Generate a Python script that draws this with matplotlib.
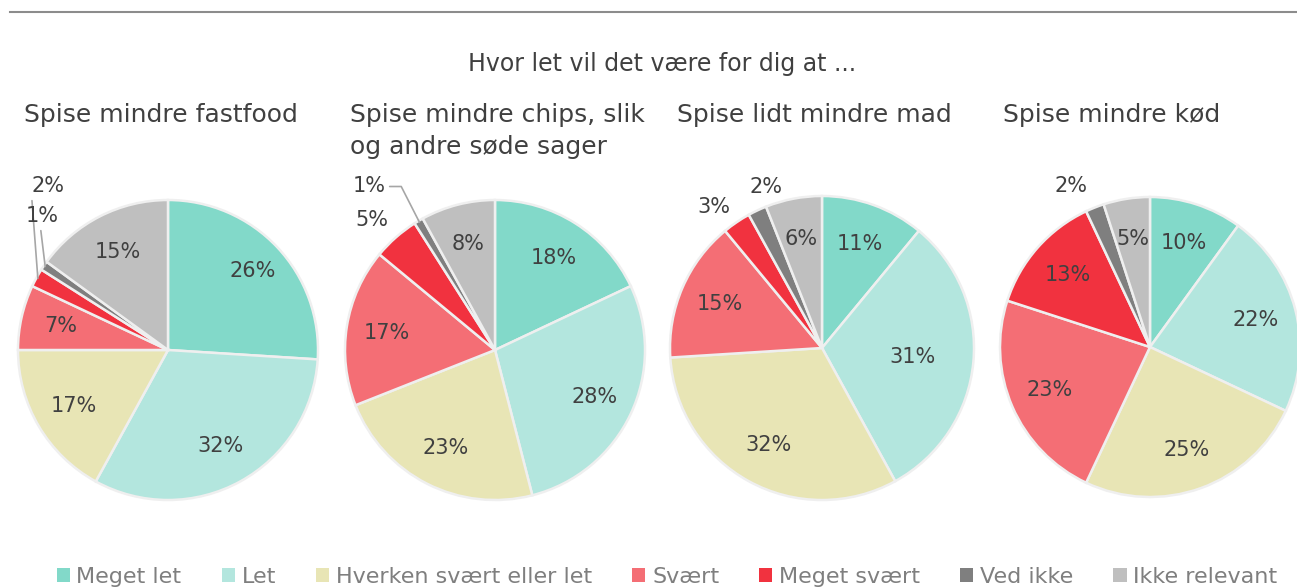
import matplotlib.pyplot as plt
from matplotlib.lines import Line2D
from matplotlib.patches import Patch
import numpy as np

plt.rcParams['font.family'] = ['DejaVu Sans']

# Data
kategorier = ['Meget let', 'Let', 'Hverken svært eller let', 'Svært',
              'Meget svært', 'Ved ikke', 'Ikke relevant']
spoergsmaal = ['Spise mindre fastfood',
               'Spise mindre chips, slik\nog andre søde sager',
               'Spise lidt mindre mad',
               'Spise mindre kød']
fastfood = [26, 32, 17, 7, 2, 1, 15]
chips = [18, 28, 23, 17, 5, 1, 8]
mindre_mad = [11, 31, 32, 15, 3, 2, 6]
koed = [10, 22, 25, 23, 13, 2, 5]
alle_vaerdier = [fastfood, chips, mindre_mad, koed]

farver = ['#82d9c9', '#b3e6de', '#e8e5b5', '#f46e75', '#f1323f', '#7f7f7f', '#bfbfbf']
tekstfarve = '#404040'

# Layout (pixels) - center x, center y, radius
W, H = 1297, 587
centre = [(168, 350, 150), (495, 350, 150), (822, 348, 152), (1150, 347, 150)]
titel_x = [24, 350, 677, 1003]

# labels placed outside the pie: (pie, slice) -> (x, y, leader line style)
udenfor = {
    (0, 4): (-0.80, 1.09, 'venstre'),
    (0, 5): (-0.84, 0.89, 'under'),
    (1, 5): (-0.84, 1.09, 'knaek'),
    (1, 4): (-0.82, 0.87, None),
    (2, 4): (-0.71, 0.93, None),
    (2, 5): (-0.37, 1.06, None),
    (3, 5): (-0.53, 1.07, None),
}
linje_stil = {
    'venstre': dict(relpos=(0.0, 0.1), connectionstyle='arc3'),
    'under': dict(relpos=(0.45, 0.0), connectionstyle='arc3'),
    'knaek': dict(relpos=(1.0, 0.5), connectionstyle='angle,angleA=0,angleB=117,rad=0'),
}
label_r = {(2, 1): 0.6, (0, 0): 0.77}

fig = plt.figure(figsize=(W / 100, H / 100), dpi=100)
L = 1.35

for i, vaerdier in enumerate(alle_vaerdier):
    cx, cy, r = centre[i]
    ax = fig.add_axes([(cx - L * r) / W, (H - cy - L * r) / H, 2 * L * r / W, 2 * L * r / H])
    wedges, _ = ax.pie(vaerdier, colors=farver, startangle=90, counterclock=False,
                       radius=1, wedgeprops=dict(edgecolor='#efefef', linewidth=1.8))
    ax.set_xlim(-L, L)
    ax.set_ylim(-L, L)
    ax.axis('off')
    total = sum(vaerdier)
    start = 0
    for j, v in enumerate(vaerdier):
        mid = (start + v / 2) / total * 2 * np.pi
        start += v
        dx, dy = np.sin(mid), np.cos(mid)
        tekst = f'{v}%'
        if (i, j) in udenfor:
            tx, ty, stil = udenfor[(i, j)]
            if stil:
                ax.annotate(tekst, xy=(dx * 0.99, dy * 0.99), xytext=(tx, ty),
                            ha='center', va='center', fontsize=15, color=tekstfarve,
                            arrowprops=dict(arrowstyle='-', color='#a6a6a6', lw=1.2,
                                            shrinkA=1, shrinkB=0, **linje_stil[stil]))
            else:
                ax.text(tx, ty, tekst, ha='center', va='center', fontsize=15, color=tekstfarve)
        else:
            rr = label_r.get((i, j), 0.73)
            ax.text(dx * rr, dy * rr, tekst, ha='center', va='center',
                    fontsize=15, color=tekstfarve)

    linjer = spoergsmaal[i].split('\n')
    for k, linje_tekst in enumerate(linjer):
        fig.text(titel_x[i] / W, 1 - (122 + 32 * k) / H, linje_tekst,
                 ha='left', va='baseline', fontsize=18, color=tekstfarve)

fig.text(662 / W, 1 - 71 / H, 'Hvor let vil det være for dig at ...', ha='center',
         va='baseline', fontsize=17, color=tekstfarve)

fig.add_artist(Line2D([10 / W, 1.0], [1 - 12 / H, 1 - 12 / H], color='#8c8c8c', lw=1.5))

handles = [Patch(facecolor=c, edgecolor='none') for c in farver]
fig.legend(handles, kategorier, loc='center', bbox_to_anchor=(667 / W, 1 - 577 / H),
           ncol=7, frameon=False, fontsize=16, labelcolor='#7f7f7f',
           handlelength=0.6, handleheight=0.6, handletextpad=0.3, columnspacing=1.8,
           borderpad=0)

fig.savefig('out.png', dpi=100)
